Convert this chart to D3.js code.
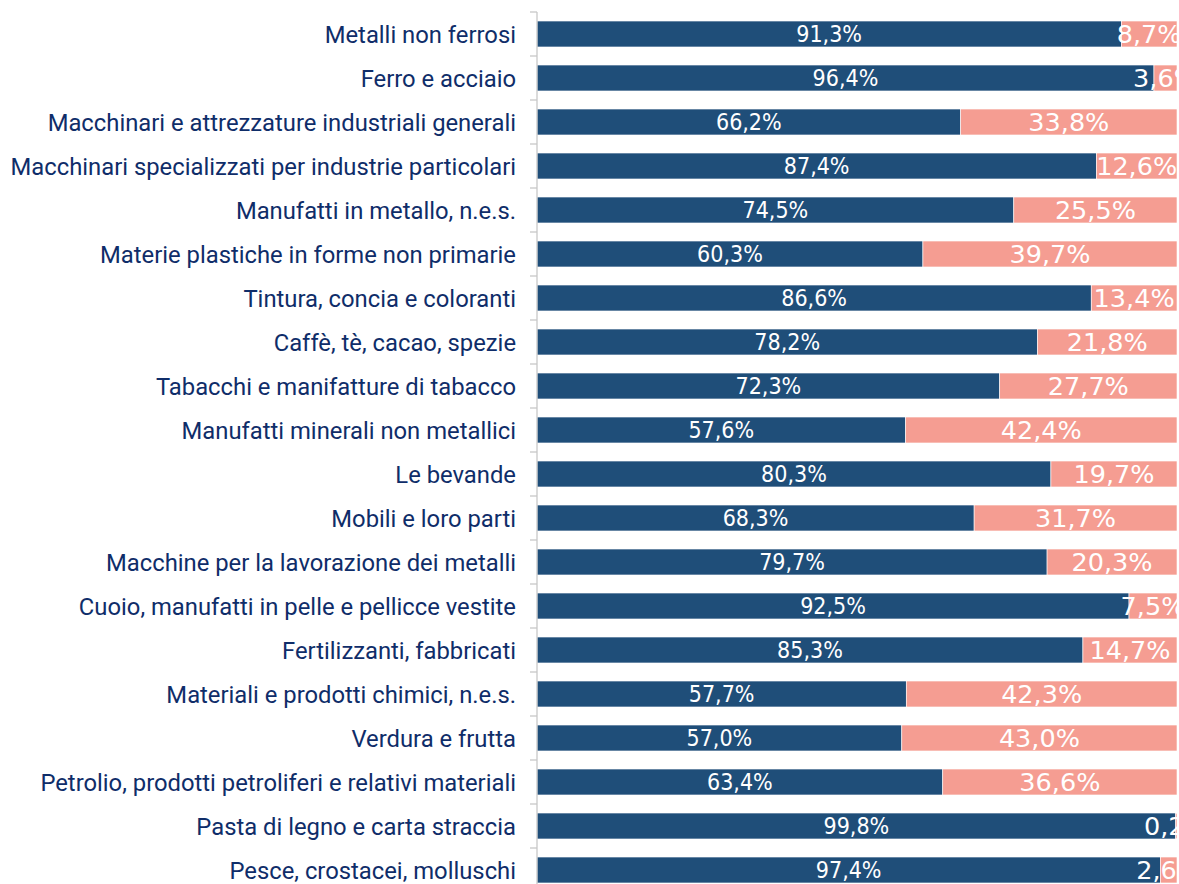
<!DOCTYPE html>
<html>
<head>
<meta charset="utf-8">
<script src="https://cdn.jsdelivr.net/npm/d3@7"></script>
<style>
  body { margin: 0; background: #fff; }
  svg { display: block; }
</style>
</head>
<body>
<svg id="chartArea" width="1179" height="884"></svg>
<script>
const categories = [
    "Metalli non ferrosi",
    "Ferro e acciaio",
    "Macchinari e attrezzature industriali generali",
    "Macchinari specializzati per industrie particolari",
    "Manufatti in metallo, n.e.s.",
    "Materie plastiche in forme non primarie",
    "Tintura, concia e coloranti",
    "Caffè, tè, cacao, spezie",
    "Tabacchi e manifatture di tabacco",
    "Manufatti minerali non metallici",
    "Le bevande",
    "Mobili e loro parti",
    "Macchine per la lavorazione dei metalli",
    "Cuoio, manufatti in pelle e pellicce vestite",
    "Fertilizzanti, fabbricati",
    "Materiali e prodotti chimici, n.e.s.",
    "Verdura e frutta",
    "Petrolio, prodotti petroliferi e relativi materiali",
    "Pasta di legno e carta straccia",
    "Pesce, crostacei, molluschi"
];
const seriesA = [91.3, 96.4, 66.2, 87.4, 74.5, 60.3, 86.6, 78.2, 72.3, 57.6,
                 80.3, 68.3, 79.7, 92.5, 85.3, 57.7, 57.0, 63.4, 99.8, 97.4];
const seriesB = [8.7, 3.6, 33.8, 12.6, 25.5, 39.7, 13.4, 21.8, 27.7, 42.4,
                 19.7, 31.7, 20.3, 7.5, 14.7, 42.3, 43.0, 36.6, 0.2, 2.6];
const seriesKeys = ["a", "b"];
const seriesColors = ["#1F4E79", "#F59D92"];

const svg = d3.select("#chartArea");
const left = 537, right = 1177;

const data = categories.map((c, i) => ({ cat: c, a: seriesA[i], b: seriesB[i] }));
const stacked = d3.stack().keys(seriesKeys)(data);

const x = d3.scaleLinear().domain([0, 100]).range([left, right]);
const y = d3.scaleBand()
    .domain(categories)
    .range([12, 12 + categories.length * 44])
    .paddingInner(0.41)
    .paddingOuter(0.205);

svg.append("defs").append("clipPath").attr("id", "plotClip")
    .append("rect").attr("x", left).attr("y", 0).attr("width", right - left).attr("height", 884);

const plot = svg.append("g").attr("clip-path", "url(#plotClip)");

stacked.forEach((layer, li) => {
    plot.append("g").selectAll("rect")
        .data(layer)
        .enter().append("rect")
        .attr("x", d => x(d[0]))
        .attr("y", d => y(d.data.cat))
        .attr("width", d => x(d[1]) - x(d[0]))
        .attr("height", y.bandwidth())
        .attr("fill", seriesColors[li])
        .attr("stroke", "#ffffff")
        .attr("stroke-width", 0.6);
});

// label styles differ per series in the original
const labelFonts = [
    { family: "'DejaVu Sans Condensed', 'DejaVu Sans', sans-serif", size: "23px", stretch: "condensed" },
    { family: "'DejaVu Sans', sans-serif", size: "25.5px", stretch: "normal" }
];

stacked.forEach((layer, li) => {
    plot.append("g").selectAll("text")
        .data(layer)
        .enter().append("text")
        .attr("x", d => (x(d[0]) + x(d[1])) / 2)
        .attr("y", d => y(d.data.cat) + y.bandwidth() / 2)
        .attr("dy", "0.36em")
        .attr("text-anchor", "middle")
        .style("font-family", labelFonts[li].family)
        .style("font-stretch", labelFonts[li].stretch)
        .style("font-size", labelFonts[li].size)
        .style("fill", "#ffffff")
        .text(d => (d[1] - d[0]).toFixed(1).replace(".", ",") + "%");
});

// category axis
const yAxis = svg.append("g");
yAxis.append("line")
    .attr("x1", left).attr("x2", left)
    .attr("y1", 12).attr("y2", 884)
    .attr("stroke", "#C8C8C8").attr("stroke-width", 1.3);
yAxis.selectAll(".tick")
    .data(categories)
    .enter().append("line")
    .attr("x1", left - 7).attr("x2", left)
    .attr("y1", d => y(d) - y.step() * y.paddingOuter())
    .attr("y2", d => y(d) - y.step() * y.paddingOuter())
    .attr("stroke", "#C8C8C8").attr("stroke-width", 1.3);
yAxis.selectAll("text")
    .data(categories)
    .enter().append("text")
    .attr("x", 516)
    .attr("y", d => y(d) + y.bandwidth() / 2)
    .attr("dy", "0.36em")
    .attr("text-anchor", "end")
    .style("font-family", "Roboto, sans-serif")
    .style("font-size", "23.8px")
    .style("fill", "#0F2D69")
    .text(d => d);
</script>
</body>
</html>
